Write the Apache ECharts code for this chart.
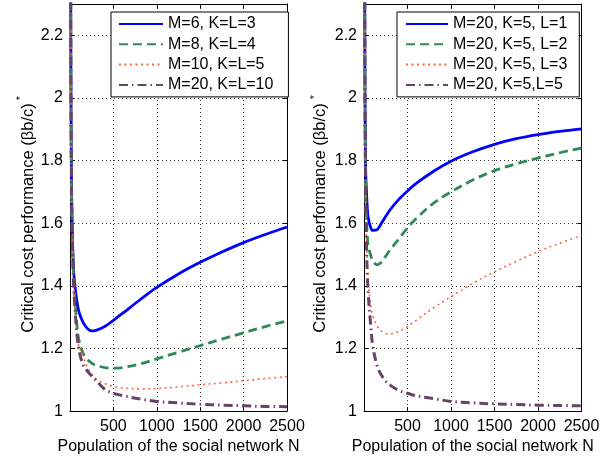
<!DOCTYPE html>
<html>
<head>
<meta charset="utf-8">
<script src="https://cdn.jsdelivr.net/npm/echarts@6/dist/echarts.min.js"></script>
<style>
  html, body { margin: 0; padding: 0; background: #fff; }
  #chart { width: 613px; height: 460px; }
</style>
</head>
<body>
<div id="chart"></div>
<script>
// population N (x values shared by every curve)
const popN = [5, 10, 15, 20, 30, 40, 50, 75, 100, 150, 200, 250, 300, 400, 500, 600, 800, 1000, 1250, 1500, 1750, 2000, 2250, 2500]

// left panel
const leftNames = ['M=6, K=L=3', 'M=8, K=L=4', 'M=10, K=L=5', 'M=20, K=L=10']
const leftM6 = [2.9, 2.1, 1.82, 1.67, 1.54, 1.46, 1.42, 1.36, 1.32, 1.283, 1.264, 1.256, 1.258, 1.27, 1.29, 1.311, 1.354, 1.395, 1.438, 1.475, 1.508, 1.538, 1.564, 1.588]
const leftM8 = [2.9, 2.1, 1.81, 1.66, 1.52, 1.44, 1.39, 1.29, 1.23, 1.185, 1.165, 1.153, 1.146, 1.139, 1.137, 1.139, 1.15, 1.167, 1.188, 1.209, 1.23, 1.25, 1.27, 1.288]
const leftM10 = [2.9, 2.1, 1.8, 1.65, 1.51, 1.42, 1.37, 1.27, 1.21, 1.175, 1.14, 1.118, 1.103, 1.088, 1.079, 1.074, 1.071, 1.072, 1.077, 1.084, 1.09, 1.097, 1.104, 1.11]
const leftM20 = [2.9, 2.1, 1.8, 1.64, 1.5, 1.41, 1.36, 1.26, 1.2, 1.148, 1.128, 1.112, 1.098, 1.07, 1.057, 1.05, 1.039, 1.031, 1.026, 1.022, 1.019, 1.017, 1.015, 1.014]

// right panel
const rightNames = ['M=20, K=5, L=1', 'M=20, K=5, L=2', 'M=20, K=5, L=3', 'M=20, K=5,L=5']
const rightL1 = [2.9, 2.15, 1.87, 1.76, 1.69, 1.64, 1.615, 1.588, 1.577, 1.579, 1.60, 1.622, 1.643, 1.676, 1.703, 1.727, 1.766, 1.798, 1.828, 1.852, 1.87, 1.883, 1.893, 1.901]
const rightL2 = [2.9, 2.1, 1.8, 1.68, 1.6, 1.55, 1.525, 1.5, 1.48, 1.467, 1.475, 1.495, 1.515, 1.55, 1.585, 1.615, 1.664, 1.70, 1.738, 1.768, 1.79, 1.808, 1.825, 1.84]
const rightL3 = [2.9, 2.1, 1.8, 1.65, 1.53, 1.45, 1.41, 1.34, 1.305, 1.272, 1.255, 1.248, 1.247, 1.255, 1.27, 1.29, 1.33, 1.365, 1.408, 1.445, 1.478, 1.509, 1.536, 1.561]
const rightL5 = [2.9, 2.1, 1.85, 1.68, 1.52, 1.42, 1.37, 1.28, 1.21, 1.145, 1.115, 1.095, 1.083, 1.066, 1.057, 1.049, 1.04, 1.031, 1.026, 1.023, 1.021, 1.019, 1.018, 1.017]

const font = 'Liberation Sans'
const styles = [
  { color: '#0000ff', width: 2.8, type: 'solid' },
  { color: '#2e8b57', width: 2.8, type: [9, 5] },
  { color: '#ff6347', width: 1.6, type: [2, 3.5] },
  { color: '#664466', width: 3, type: [9, 4, 1.5, 4] }
]

const chart = echarts.init(document.getElementById('chart'))

const grids = [
  { left: 70, top: 4, width: 217, height: 409 },
  { left: 364, top: 4, width: 217.5, height: 409 }
]

const gridLine = { show: true, lineStyle: { color: '#333', width: 1, type: [1, 3] } }
const blackLine = { show: true, onZero: false, lineStyle: { color: '#000', width: 1 } }
const innerTick = { show: true, inside: true, length: 4, lineStyle: { color: '#000' } }

function bottomAxis(i) {
  return {
    type: 'value', gridIndex: i, position: 'bottom', min: 0, max: 2500, interval: 500,
    name: 'Population of the social network N', nameLocation: 'middle', nameGap: 27,
    nameTextStyle: { fontFamily: font, fontSize: 16, color: '#000' },
    axisLine: blackLine, axisTick: innerTick, splitLine: gridLine,
    axisLabel: { fontFamily: font, fontSize: 16, color: '#000', margin: 7, showMinLabel: false, formatter: v => String(v) }
  }
}
function topAxis(i) {
  return {
    type: 'value', gridIndex: i, position: 'top', min: 0, max: 2500, interval: 500,
    axisLine: blackLine, axisTick: innerTick, splitLine: { show: false }, axisLabel: { show: false }
  }
}
function leftAxis(i) {
  return {
    type: 'value', gridIndex: i, position: 'left', min: 1, max: 2.3, interval: 0.2,
    axisLine: blackLine, axisTick: innerTick, splitLine: gridLine,
    axisLabel: { fontFamily: font, fontSize: 16, color: '#000', margin: 7, showMaxLabel: false }
  }
}
function rightAxis(i) {
  return {
    type: 'value', gridIndex: i, position: 'right', min: 1, max: 2.3, interval: 0.2,
    axisLine: blackLine, axisTick: innerTick, splitLine: { show: false }, axisLabel: { show: false }
  }
}

function makeSeries(name, values, k, idx) {
  const st = styles[k]
  return {
    name: name,
    type: 'line',
    xAxisIndex: idx,
    yAxisIndex: idx,
    data: popN.map((n, j) => [n, values[j]]),
    symbol: 'none',
    smooth: 0.35,
    clip: true,
    itemStyle: { color: st.color },
    lineStyle: { color: st.color, width: st.width, type: st.type, cap: 'butt' },
    emphasis: { disabled: true }
  }
}

const leftVals = [leftM6, leftM8, leftM10, leftM20]
const rightVals = [rightL1, rightL2, rightL3, rightL5]
const series = []
leftVals.forEach((v, k) => series.push(makeSeries(leftNames[k], v, k, 0)))
rightVals.forEach((v, k) => series.push(makeSeries(rightNames[k], v, k, 1)))

const legendBase = {
  orient: 'vertical', top: 12, itemGap: 4.3, itemHeight: 14,
  backgroundColor: '#fff', borderColor: '#000', borderWidth: 1, borderRadius: 0,
  textStyle: { fontFamily: font, fontSize: 16, color: '#000' },
  itemStyle: { opacity: 0 },
  selectedMode: false
}

const yName = 'Critical cost performance (βb/c)'
function yTitle(x, y) {
  return {
    type: 'text', x: x, y: y, rotation: Math.PI / 2,
    style: { text: yName, font: '16.5px "Liberation Sans"', fill: '#000', align: 'center', verticalAlign: 'middle' }
  }
}
function star(x, y) {
  return {
    type: 'text', x: x, y: y, rotation: Math.PI / 2,
    style: { text: '*', font: '11px "Liberation Sans"', fill: '#000', align: 'center', verticalAlign: 'middle' }
  }
}

chart.setOption({
  animation: false,
  backgroundColor: '#fff',
  grid: grids,
  xAxis: [bottomAxis(0), bottomAxis(1), topAxis(0), topAxis(1)],
  yAxis: [leftAxis(0), leftAxis(1), rightAxis(0), rightAxis(1)],
  legend: [
    Object.assign({}, legendBase, { left: 111, data: leftNames, itemWidth: 44, padding: [4, 15, 4, 7] }),
    Object.assign({}, legendBase, { left: 397, data: rightNames, itemWidth: 42, padding: [4, 12, 4, 8] })
  ],
  graphic: [yTitle(28, 218), star(21, 98), yTitle(320, 218), star(315, 97)],
  series: series
})
</script>
</body>
</html>
